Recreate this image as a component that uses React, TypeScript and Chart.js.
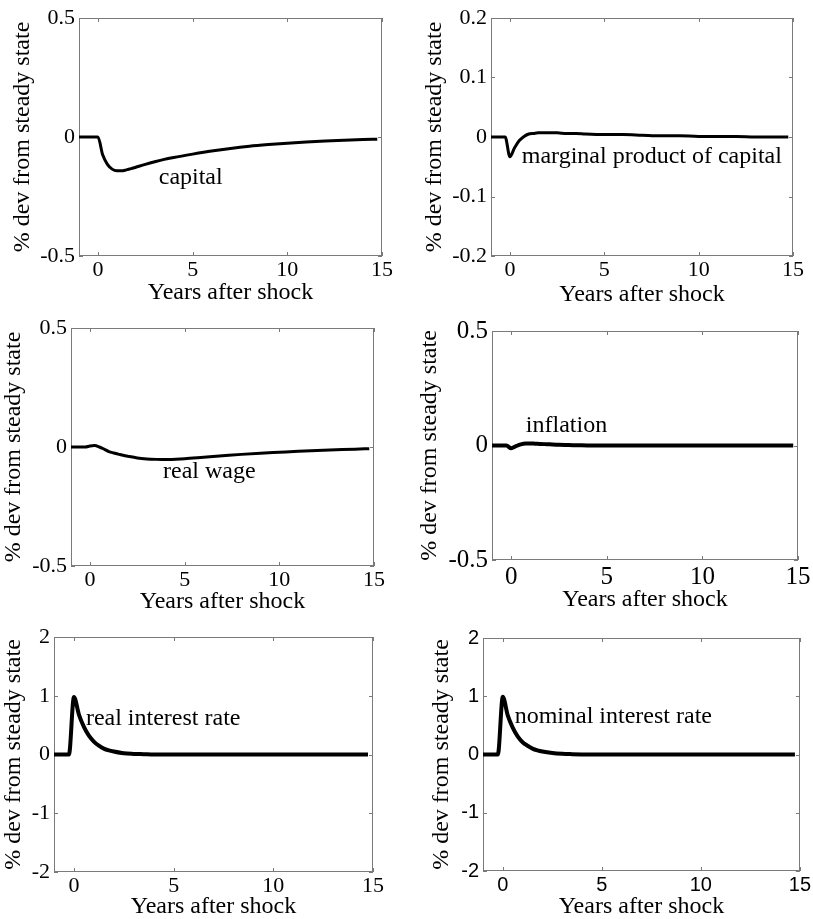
import React, { useEffect, useRef } from 'react';
import { Chart, registerables } from 'chart.js';

Chart.register(...registerables);

// ---------- data ----------
const years = [-1, -0.75, -0.5, -0.25, 0, 0.25, 0.5, 0.75, 1, 1.25, 1.5, 1.75, 2, 2.5, 3, 3.5, 4, 5, 6, 7, 8, 9, 10, 11, 12, 13, 14, 14.75];

const capital = [0, 0, 0, 0, 0, -0.075, -0.115, -0.135, -0.142, -0.142, -0.138, -0.133, -0.127, -0.115, -0.104, -0.094, -0.086, -0.072, -0.059, -0.048, -0.039, -0.032, -0.026, -0.021, -0.017, -0.014, -0.011, -0.009];
const marginalProduct = [0, 0, 0, 0, -0.033, -0.018, -0.006, 0.001, 0.005, 0.006, 0.007, 0.007, 0.007, 0.007, 0.006, 0.006, 0.005, 0.004, 0.004, 0.003, 0.002, 0.002, 0.001, 0.001, 0.001, 0, 0, 0];
const realWage = [0, 0, 0, 0, 0.004, 0.006, 0.0, -0.009, -0.019, -0.025, -0.03, -0.035, -0.039, -0.046, -0.05, -0.052, -0.053, -0.049, -0.043, -0.037, -0.031, -0.026, -0.022, -0.018, -0.015, -0.012, -0.009, -0.007];
const inflation = [0, 0, 0, 0, -0.012, -0.003, 0.005, 0.009, 0.009, 0.008, 0.007, 0.006, 0.005, 0.003, 0.002, 0.001, 0, 0, 0, 0, 0, 0, 0, 0, 0, 0, 0, 0];
const realInterestRate = [0, 0, 0, 0, 0.98, 0.68, 0.47, 0.32, 0.22, 0.15, 0.1, 0.07, 0.05, 0.02, 0.01, 0.005, 0, 0, 0, 0, 0, 0, 0, 0, 0, 0, 0, 0];
const nominalInterestRate = [0, 0, 0, 0, 0.99, 0.67, 0.46, 0.31, 0.21, 0.15, 0.1, 0.07, 0.05, 0.025, 0.012, 0.006, 0.002, 0, 0, 0, 0, 0, 0, 0, 0, 0, 0, 0];

const xTicks = [0, 5, 10, 15];
const xTickLabels = ['0', '5', '10', '15'];
const yTicksHalf = [-0.5, 0, 0.5];
const yTickLabelsHalf = ['-0.5', '0', '0.5'];
const yTicksTenth = [-0.2, -0.1, 0, 0.1, 0.2];
const yTickLabelsTenth = ['-0.2', '-0.1', '0', '0.1', '0.2'];
const yTicksTwo = [-2, -1, 0, 1, 2];
const yTickLabelsTwo = ['-2', '-1', '0', '1', '2'];

const xTitle = 'Years after shock';
const yTitle = '% dev from steady state';

const SERIF = '"Liberation Serif", "Times New Roman", serif';
const SANS = '"Liberation Sans", Arial, sans-serif';

// ---------- panel layout ----------
type Panel = {
  series: number[];
  name: string; nameX: number; nameY: number;
  yMin: number; yMax: number; yTicks: number[]; yLabels: string[];
  left: number; top: number; width: number; height: number;
  yW: number; padR: number;
  yTitlePad: number; xTitlePad: number;
  tickFamily: string; tickSize: number; xTickPad: number;
  lineW: number;
};

const panels: Panel[] = [
  { series: capital, name: 'capital', nameX: 3.21, nameY: -0.197, yMin: -0.5, yMax: 0.5, yTicks: yTicksHalf, yLabels: yTickLabelsHalf,
    left: 0, top: 0, width: 406, height: 308, yW: 79, padR: 24, yTitlePad: 10.8, xTitlePad: 3,
    tickFamily: SERIF, tickSize: 22, xTickPad: 1, lineW: 3 },
  { series: marginalProduct, name: 'marginal product of capital', nameX: 0.63, nameY: -0.043, yMin: -0.2, yMax: 0.2, yTicks: yTicksTenth, yLabels: yTickLabelsTenth,
    left: 406, top: 0, width: 407, height: 308, yW: 85, padR: 20, yTitlePad: 16.5, xTitlePad: 1.5,
    tickFamily: SERIF, tickSize: 22, xTickPad: 1, lineW: 3 },
  { series: realWage, name: 'real wage', nameX: 3.86, nameY: -0.13, yMin: -0.5, yMax: 0.5, yTicks: yTicksHalf, yLabels: yTickLabelsHalf,
    left: 0, top: 310, width: 406, height: 308, yW: 71, padR: 32, yTitlePad: 2.2, xTitlePad: 4,
    tickFamily: SERIF, tickSize: 22, xTickPad: 1, lineW: 3 },
  { series: inflation, name: 'inflation', nameX: 0.77, nameY: 0.057, yMin: -0.5, yMax: 0.5, yTicks: yTicksHalf, yLabels: yTickLabelsHalf,
    left: 406, top: 312, width: 407, height: 300, yW: 86, padR: 13, yTitlePad: 11.5, xTitlePad: 0,
    tickFamily: SERIF, tickSize: 25, xTickPad: 2.5, lineW: 4 },
  { series: realInterestRate, name: 'real interest rate', nameX: 0.6, nameY: 0.5, yMin: -2, yMax: 2, yTicks: yTicksTwo, yLabels: yTickLabelsTwo,
    left: 0, top: 619, width: 406, height: 305, yW: 54, padR: 33, yTitlePad: 2.2, xTitlePad: 5,
    tickFamily: SERIF, tickSize: 22, xTickPad: 1, lineW: 4 },
  { series: nominalInterestRate, name: 'nominal interest rate', nameX: 0.6, nameY: 0.546, yMin: -2, yMax: 2, yTicks: yTicksTwo, yLabels: yTickLabelsTwo,
    left: 406, top: 620, width: 407, height: 303, yW: 77, padR: 11, yTitlePad: 23.5, xTitlePad: 4,
    tickFamily: SANS, tickSize: 20, xTickPad: 2, lineW: 4 },
];

// box, inward tick marks and the in-plot label
const framePlugin = {
  id: 'frame',
  beforeDatasetsDraw(chart: any) {
    const { ctx, chartArea } = chart;
    const { left, top, right, bottom } = chartArea;
    const xs = chart.scales.x;
    const ys = chart.scales.y;
    ctx.save();
    ctx.strokeStyle = '#7a7a7a';
    ctx.lineWidth = 1;
    ctx.strokeRect(Math.round(left) + 0.5, Math.round(top) + 0.5, Math.round(right - left) - 1, Math.round(bottom - top) - 1);
    ctx.beginPath();
    const tl = 4;
    xs.ticks.forEach((t: any) => {
      const px = Math.round(xs.getPixelForValue(t.value)) + 0.5;
      ctx.moveTo(px, bottom); ctx.lineTo(px, bottom - tl);
      ctx.moveTo(px, top); ctx.lineTo(px, top + tl);
    });
    ys.ticks.forEach((t: any) => {
      const py = Math.round(ys.getPixelForValue(t.value)) + 0.5;
      ctx.moveTo(left, py); ctx.lineTo(left + tl, py);
      ctx.moveTo(right, py); ctx.lineTo(right - tl, py);
    });
    ctx.stroke();
    ctx.restore();
  },
  afterDatasetsDraw(chart: any, _args: any, opts: any) {
    const { ctx } = chart;
    const xs = chart.scales.x;
    const ys = chart.scales.y;
    ctx.save();
    ctx.fillStyle = '#000';
    ctx.font = `24px ${SERIF}`;
    ctx.textAlign = 'left';
    ctx.textBaseline = 'alphabetic';
    ctx.fillText(opts.text, xs.getPixelForValue(opts.x), ys.getPixelForValue(opts.y));
    ctx.restore();
  },
};

function PanelChart({ p }: { p: Panel }) {
  const ref = useRef<HTMLCanvasElement | null>(null);
  useEffect(() => {
    if (!ref.current) return;
    const chart = new Chart(ref.current, {
      type: 'line',
      data: {
        datasets: [{
          data: years.map((x, i) => ({ x, y: p.series[i] })),
          borderColor: '#000',
          borderWidth: p.lineW,
          pointRadius: 0,
          fill: false,
          cubicInterpolationMode: 'monotone',
          borderCapStyle: 'butt',
          borderJoinStyle: 'round',
        }],
      },
      options: {
        responsive: false,
        animation: false,
        devicePixelRatio: 1,
        events: [],
        layout: { padding: { top: 18, right: p.padR, left: 0, bottom: 0 }, autoPadding: false },
        plugins: {
          legend: { display: false },
          tooltip: { enabled: false },
          frame: { text: p.name, x: p.nameX, y: p.nameY },
        } as any,
        scales: {
          x: {
            type: 'linear',
            min: -1,
            max: 15,
            afterBuildTicks: (a: any) => { a.ticks = xTicks.map((v) => ({ value: v })); },
            afterFit: (s: any) => { s.height = 52; },
            grid: { display: false, drawTicks: false },
            border: { display: false },
            ticks: {
              autoSkip: false, maxRotation: 0, padding: p.xTickPad, color: '#000',
              font: { family: p.tickFamily, size: p.tickSize },
              callback: (_v: any, i: number) => xTickLabels[i],
            },
            title: {
              display: true, text: xTitle, color: '#000',
              font: { family: SERIF, size: 24, lineHeight: 1 },
              padding: { top: 0, bottom: p.xTitlePad },
            },
          },
          y: {
            type: 'linear',
            min: p.yMin,
            max: p.yMax,
            afterBuildTicks: (a: any) => { a.ticks = p.yTicks.map((v) => ({ value: v })); },
            afterFit: (s: any) => { s.width = p.yW; },
            grid: { display: false, drawTicks: false },
            border: { display: false },
            ticks: {
              autoSkip: false, padding: 4, color: '#000',
              font: { family: p.tickFamily, size: p.tickSize },
              callback: (_v: any, i: number) => p.yLabels[i],
            },
            title: {
              display: true, text: yTitle, color: '#000',
              font: { family: SERIF, size: 24, lineHeight: 1 },
              padding: { top: p.yTitlePad, bottom: 0 },
            },
          },
        },
      },
      plugins: [framePlugin as any],
    });
    return () => chart.destroy();
  }, [p]);
  return (
    <canvas
      ref={ref}
      width={p.width}
      height={p.height}
      style={{ position: 'absolute', left: p.left, top: p.top, width: p.width, height: p.height }}
    />
  );
}

export default function App() {
  return (
    <div style={{ position: 'absolute', left: 0, top: 0, width: 813, height: 919, overflow: 'hidden', background: '#fff' }}>
      {panels.map((p, i) => <PanelChart key={i} p={p} />)}
    </div>
  );
}
